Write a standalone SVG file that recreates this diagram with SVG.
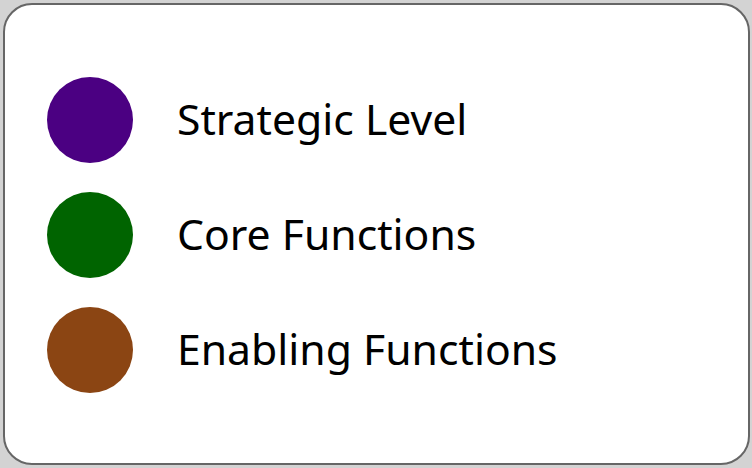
<svg xmlns="http://www.w3.org/2000/svg" width="752" height="468" viewBox="0 0 752 468">
<style>
.lbl{font-family:"Noto Sans","Open Sans","DejaVu Sans",sans-serif;font-size:42.7px;fill:#000}
</style>
<rect x="0" y="0" width="752" height="468" fill="#d3d3d3"/>
<g id="legend">
<rect x="4" y="4" width="745" height="460" rx="28" ry="28" fill="#fff" stroke="#666" stroke-width="2"/>
</g>
<g id="strategic">
<circle cx="90" cy="120" r="43" fill="#4B0082"/>
<text class="lbl" x="177" y="135">Strategic Level</text>
</g>
<g id="core">
<circle cx="90" cy="235" r="43" fill="#006400"/>
<text class="lbl" x="177" y="250">Core Functions</text>
</g>
<g id="enabling">
<circle cx="90" cy="350" r="43" fill="#8B4513"/>
<text class="lbl" x="177" y="365">Enabling Functions</text>
</g>
<g id="connectors"/>
</svg>
